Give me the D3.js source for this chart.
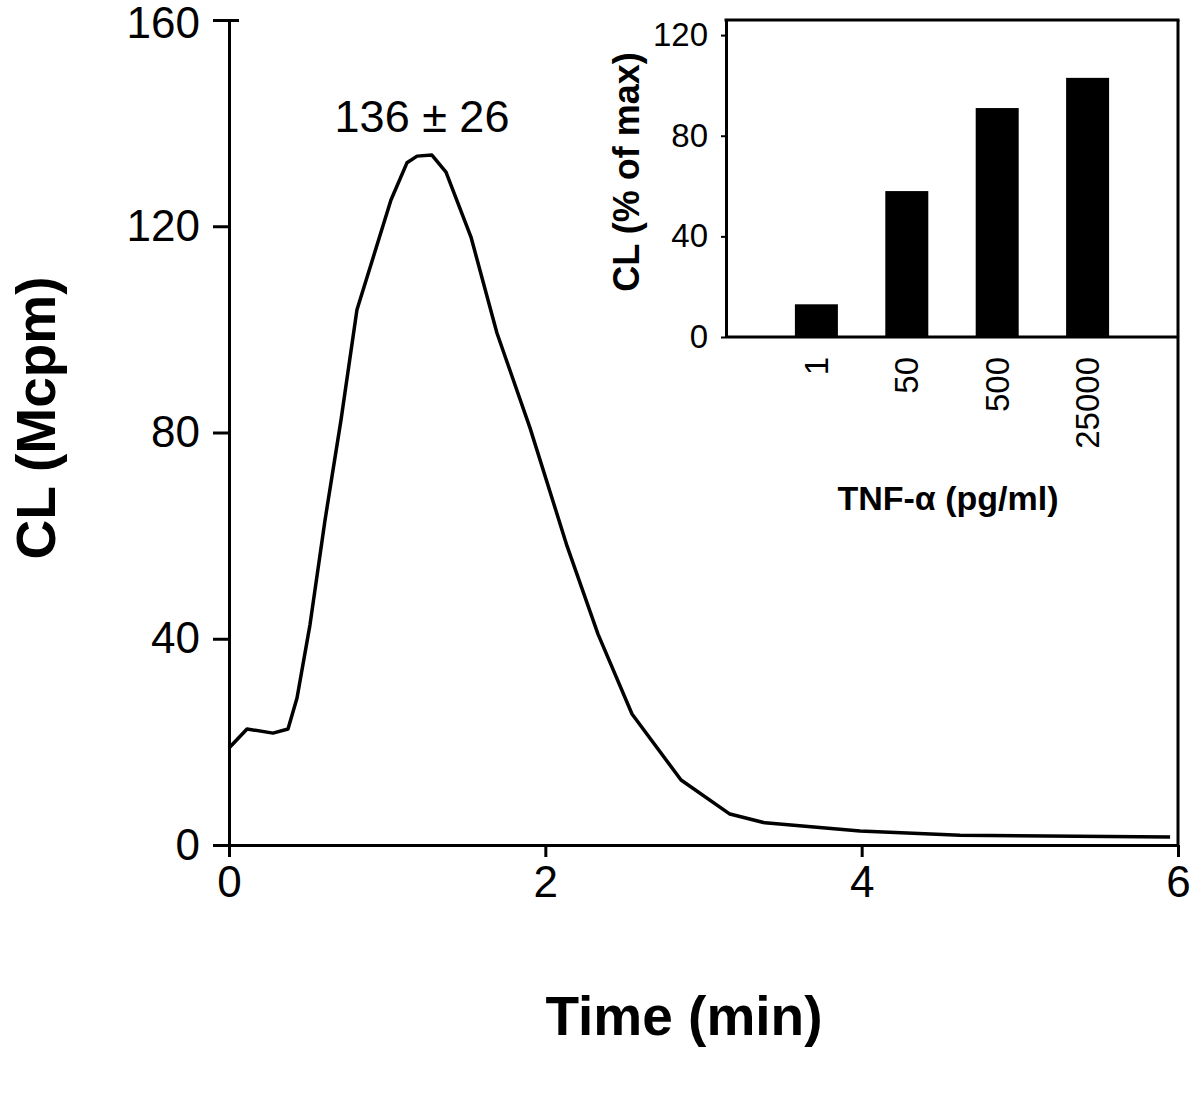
<!DOCTYPE html>
<html><head><meta charset="utf-8">
<script src="https://cdn.jsdelivr.net/npm/d3@7"></script>
<style>body{margin:0;background:#fff}</style>
</head><body><svg id="c" width="1200" height="1096"></svg>
<script>
// Main kinetic curve
const timeMin = [0, 0.114, 0.278, 0.373, 0.43, 0.512, 0.607, 0.708, 0.809, 0.91, 1.024, 1.125, 1.189, 1.283, 1.372, 1.53, 1.694, 1.903, 2.137, 2.333, 2.548, 2.858, 3.167, 3.389, 3.989, 4.622, 5.95];
const clMcpm  = [18.8, 22.5, 21.7, 22.5, 28.5, 42.7, 63.0, 82.4, 103.8, 113.8, 125.1, 132.3, 133.6, 133.8, 130.5, 117.9, 99.3, 80.9, 58.0, 40.9, 25.4, 12.6, 6.0, 4.3, 2.7, 1.9, 1.55];
const mainXTicks = [0, 2, 4, 6];
const mainYTicks = [0, 40, 80, 120, 160];
const peakLabel = "136 ± 26";
const mainXTitle = "Time (min)";
const mainYTitle = "CL (Mcpm)";
// Inset bar chart
const tnfDoses = ["1", "50", "500", "25000"];
const clPercent = [13, 58, 91, 103];
const insetYTicks = [0, 40, 80, 120];
const insetXTitle = "TNF-α (pg/ml)";
const insetYTitle = "CL (% of max)";

const svg = d3.select("#c");
const FONT = "Arial, 'Liberation Sans', sans-serif";

// ---- main chart ----
const x = d3.scaleLinear().domain([0, 6]).range([229, 1178]);
const y = d3.scaleLinear().domain([0, 160]).range([845, 20]);

const gx = svg.append("g").attr("transform", "translate(0,845)")
  .call(d3.axisBottom(x).tickValues(mainXTicks).tickSize(12).tickSizeOuter(0).tickPadding(9).tickFormat(d3.format("d")));
const gy = svg.append("g").attr("transform", "translate(229,0)")
  .call(d3.axisLeft(y).tickValues(mainYTicks).tickSize(16).tickSizeOuter(0).tickPadding(13).tickFormat(d3.format("d")));
[gx, gy].forEach(g => {
  g.selectAll("path.domain").attr("stroke", "#000").attr("stroke-width", 3);
  g.selectAll(".tick line").attr("stroke", "#000").attr("stroke-width", 3);
  g.selectAll(".tick text").attr("font-family", FONT).attr("font-size", 44).attr("fill", "#000");
});
// top tick crosses the axis slightly
gy.selectAll(".tick").filter(d => d === 160).select("line").attr("x2", 10).attr("x1", -16);
gy.selectAll(".tick").filter(d => d === 160).select("text").attr("dy", "0.4em");

const line = d3.line().x((d, i) => x(timeMin[i])).y(d => y(d));
svg.append("path").datum(clMcpm).attr("d", line)
  .attr("fill", "none").attr("stroke", "#000").attr("stroke-width", 3.5).attr("stroke-linejoin", "round");

svg.append("text").text(peakLabel).attr("x", 422).attr("y", 132)
  .attr("text-anchor", "middle").attr("font-family", FONT).attr("font-size", 45);

svg.append("text").text(mainXTitle).attr("x", 684).attr("y", 1035)
  .attr("text-anchor", "middle").attr("font-family", FONT).attr("font-weight", "bold").attr("font-size", 55);
svg.append("text").text(mainYTitle).attr("transform", "translate(55,418) rotate(-90)")
  .attr("text-anchor", "middle").attr("font-family", FONT).attr("font-weight", "bold").attr("font-size", 55);

// ---- inset ----
const L = 726, R = 1178, T = 20, B = 337;
svg.append("rect").attr("x", L).attr("y", T).attr("width", R - L).attr("height", B - T).attr("fill", "#fff");
const xi = d3.scalePoint().domain(tnfDoses).range([L, R]).padding(1);
const yi = d3.scaleLinear().domain([0, 126]).range([B, T]);
const bw = 43;
svg.append("g").selectAll("rect").data(clPercent).join("rect")
  .attr("x", (d, i) => xi(tnfDoses[i]) - bw / 2).attr("width", bw)
  .attr("y", d => yi(d)).attr("height", d => B - yi(d)).attr("fill", "#000");

const gyi = svg.append("g").attr("transform", `translate(${L},0)`)
  .call(d3.axisLeft(yi).tickValues(insetYTicks).tickSize(5).tickSizeOuter(0).tickPadding(13).tickFormat(d3.format("d")));
gyi.selectAll("path.domain").attr("stroke", "#000").attr("stroke-width", 3);
gyi.selectAll(".tick line").attr("stroke", "#000").attr("stroke-width", 2);
gyi.selectAll(".tick text").attr("font-family", FONT).attr("font-size", 33).attr("fill", "#000");

// frame: top, right, bottom
svg.append("line").attr("x1", L - 1.5).attr("x2", R + 1.5).attr("y1", T).attr("y2", T).attr("stroke", "#000").attr("stroke-width", 3);
svg.append("line").attr("x1", R).attr("x2", R).attr("y1", T).attr("y2", 845).attr("stroke", "#000").attr("stroke-width", 3);
svg.append("line").attr("x1", L).attr("x2", R).attr("y1", B).attr("y2", B).attr("stroke", "#000").attr("stroke-width", 3);

svg.append("g").selectAll("text").data(tnfDoses).join("text")
  .text(d => d)
  .attr("transform", d => `translate(${xi(d)},357) rotate(-90)`)
  .attr("dy", "0.35em").attr("text-anchor", "end")
  .attr("font-family", FONT).attr("font-size", 33);

svg.append("text").text(insetXTitle).attr("x", 948).attr("y", 510)
  .attr("text-anchor", "middle").attr("font-family", FONT).attr("font-weight", "bold").attr("font-size", 34);
svg.append("text").text(insetYTitle).attr("transform", "translate(639,172) rotate(-90)")
  .attr("text-anchor", "middle").attr("font-family", FONT).attr("font-weight", "bold").attr("font-size", 36);
</script>
</body></html>
